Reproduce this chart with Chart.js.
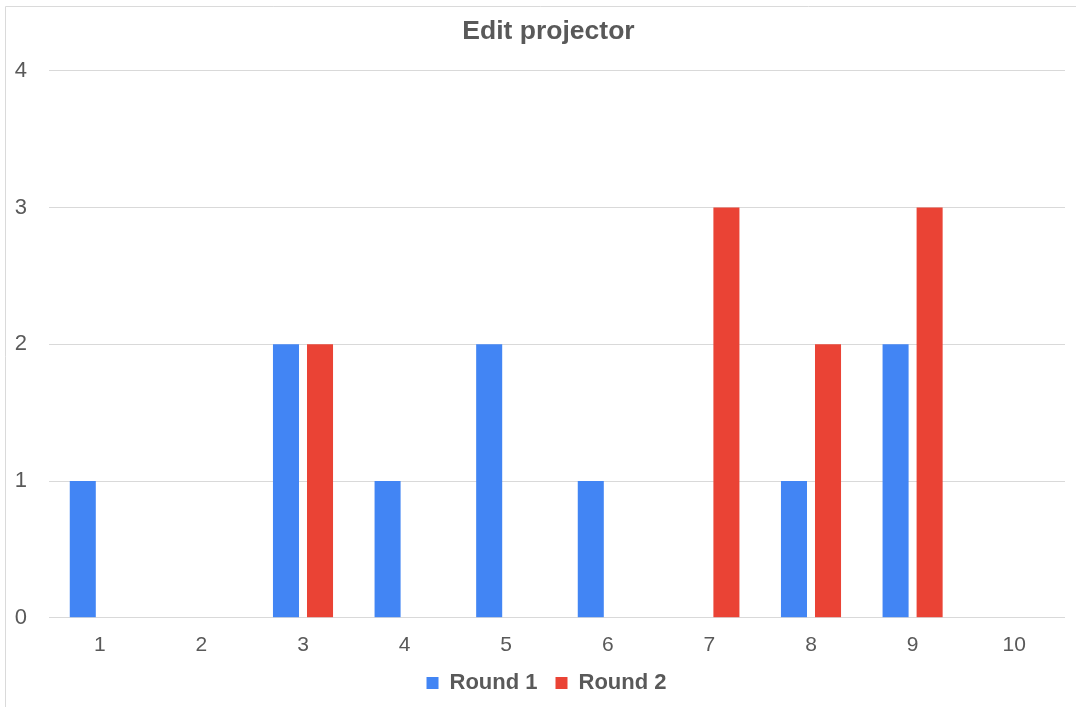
<!DOCTYPE html>
<html>
<head>
<meta charset="utf-8">
<title>Edit projector</title>
<script src="https://cdn.jsdelivr.net/npm/chart.js@4"></script>
<style>
  html, body { margin: 0; padding: 0; background: #ffffff; }
  #wrap { position: relative; width: 1076px; height: 707px; }
  canvas { display: block; }
</style>
</head>
<body>
<div id="wrap"><canvas id="chart" width="1076" height="707"></canvas></div>
<script>
// Survey responses per score, two rounds
const categories = ['1', '2', '3', '4', '5', '6', '7', '8', '9', '10'];
const round1 = [1, 0, 2, 1, 2, 1, 0, 1, 2, 0];
const round2 = [0, 0, 2, 0, 0, 0, 3, 2, 3, 0];
const yTicks = [0, 1, 2, 3, 4];

const TEXT = '#595959';
const FONT = "'Liberation Sans', Arial, sans-serif";

// White background plus a thin frame along the top and left edges
const framePlugin = {
  id: 'frame',
  beforeDraw(chart) {
    const ctx = chart.ctx;
    ctx.save();
    ctx.fillStyle = '#ffffff';
    ctx.fillRect(0, 0, chart.width, chart.height);
    ctx.strokeStyle = '#dadada';
    ctx.lineWidth = 1;
    ctx.beginPath();
    ctx.moveTo(5.5, chart.height);
    ctx.lineTo(5.5, 6.5);
    ctx.lineTo(chart.width, 6.5);
    ctx.stroke();
    ctx.restore();
  }
};

// Nudge title and legend a little to the right of the canvas centre
const offsetPlugin = {
  id: 'centreOffset',
  afterLayout(chart) {
    const t = chart.titleBlock;
    if (t) { t.left += 9; t.right += 9; }
    const l = chart.legend;
    if (l) { l.left += 7; l.right += 7; }
  }
};

new Chart(document.getElementById('chart'), {
  type: 'bar',
  data: {
    labels: categories,
    datasets: [
      { label: 'Round 1', data: round1, backgroundColor: '#4285F4', borderWidth: 0 },
      { label: 'Round 2', data: round2, backgroundColor: '#EA4335', borderWidth: 0 }
    ]
  },
  options: {
    responsive: false,
    animation: false,
    devicePixelRatio: 1,
    categoryPercentage: 0.67,
    barPercentage: 0.765,
    layout: { padding: { left: 14, right: 11, top: 0, bottom: 3 } },
    plugins: {
      title: {
        display: true,
        text: 'Edit projector',
        color: TEXT,
        font: { family: FONT, size: 26.5, weight: 'bold' },
        padding: { top: 16, bottom: 23 }
      },
      legend: {
        position: 'bottom',
        labels: {
          color: TEXT,
          font: { family: FONT, size: 22, weight: 'bold' },
          boxWidth: 12,
          boxHeight: 12,
          padding: 18
        }
      },
      tooltip: { enabled: false }
    },
    scales: {
      x: {
        afterFit(scale) { scale.height -= 19; },
        grid: { display: false, drawTicks: false },
        border: { display: false },
        ticks: { color: TEXT, font: { family: FONT, size: 21 }, padding: 15, maxRotation: 0 }
      },
      y: {
        min: 0,
        max: 4,
        afterFit(scale) { scale.width = 35; },
        afterBuildTicks(scale) { scale.ticks = yTicks.map(v => ({ value: v })); },
        grid: { color: '#d9d9d9', drawTicks: false, lineWidth: 1 },
        border: { display: false },
        ticks: { color: TEXT, font: { family: FONT, size: 22 }, padding: 22 }
      }
    }
  },
  plugins: [framePlugin, offsetPlugin]
});
</script>
</body>
</html>
